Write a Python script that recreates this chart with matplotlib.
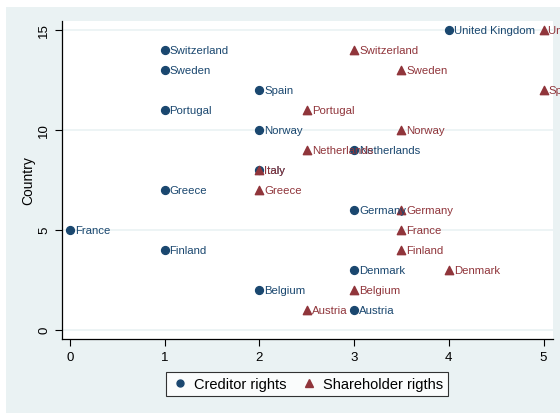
import matplotlib
matplotlib.use('Agg')
import matplotlib.pyplot as plt
import matplotlib.patches as mpatches
import matplotlib.lines as mlines

plt.rcParams['font.family'] = ['Liberation Sans', 'DejaVu Sans']

countries = ['Austria', 'Belgium', 'Denmark', 'Finland', 'France', 'Germany', 'Greece',
             'Italy', 'Netherlands', 'Norway', 'Portugal', 'Spain', 'Sweden',
             'Switzerland', 'United Kingdom']
country_idx = list(range(1, 16))
creditor = [3, 2, 3, 1, 0, 3, 1, 2, 3, 2, 1, 2, 1, 1, 4]
shareholder = [2.5, 3, 4, 3.5, 3.5, 3.5, 2, 2, 2.5, 3.5, 2.5, 5, 3.5, 3, 5]

navy = '#1a476f'
maroon = '#90353b'
bgcol = '#eaf2f3'

fig = plt.figure(figsize=(5.6, 4.14), dpi=100)
fig.patch.set_facecolor('white')
# Stata graph region
fig.patches.append(mpatches.Rectangle((6/560, 0), 1, 1 - 8/414, transform=fig.transFigure,
                                      facecolor=bgcol, edgecolor='none', zorder=-10))

ax = fig.add_axes([62/560, 1 - 340/414, (553 - 62)/560, (340 - 22)/414])
ax.set_facecolor('white')

ax.scatter(creditor, country_idx, marker='o', s=32, color=navy, zorder=3)
ax.scatter(shareholder, country_idx, marker='^', s=36, color=maroon, zorder=3)
for x, y, name in zip(creditor, country_idx, countries):
    ax.annotate(name, (x, y), xytext=(3.5, 0), textcoords='offset points', fontsize=8.2,
                color=navy, va='center', ha='left', annotation_clip=False, zorder=4)
for x, y, name in zip(shareholder, country_idx, countries):
    ax.annotate(name, (x, y), xytext=(3.5, 0), textcoords='offset points', fontsize=8.2,
                color=maroon, va='center', ha='left', annotation_clip=False, zorder=4)

ax.set_xlim(-0.085, 5.1)
ax.set_ylim(-0.47, 15.45)
ax.set_xticks([0, 1, 2, 3, 4, 5])
ax.set_yticks([0, 5, 10, 15])
ax.tick_params(axis='both', direction='out', length=5, width=0.8, labelsize=9.5, colors='black')
for lab in ax.get_yticklabels():
    lab.set_rotation(90)
    lab.set_va('center')
ax.yaxis.grid(True, color=bgcol, lw=1.2)
ax.set_axisbelow(True)
ax.spines['top'].set_visible(False)
ax.spines['right'].set_visible(False)
ax.spines['left'].set_linewidth(0.9)
ax.spines['bottom'].set_linewidth(0.9)
ax.set_ylabel('Country', fontsize=10, labelpad=2)

h1 = mlines.Line2D([], [], color=navy, marker='o', linestyle='None', markersize=5,
                   label='Creditor rights')
h2 = mlines.Line2D([], [], color=maroon, marker='^', linestyle='None', markersize=5.5,
                   label='Shareholder rigths')
leg = fig.legend(handles=[h1, h2], loc='center', bbox_to_anchor=(307/560, 1 - 385/414),
                 ncol=2, fontsize=10.5, frameon=True, fancybox=False, edgecolor='black',
                 handletextpad=0.4, columnspacing=0.9, borderpad=0.35, handlelength=1.2,
                 borderaxespad=0)
leg.get_frame().set_linewidth(0.8)

fig.savefig('out.png', dpi=100, facecolor=fig.get_facecolor())
